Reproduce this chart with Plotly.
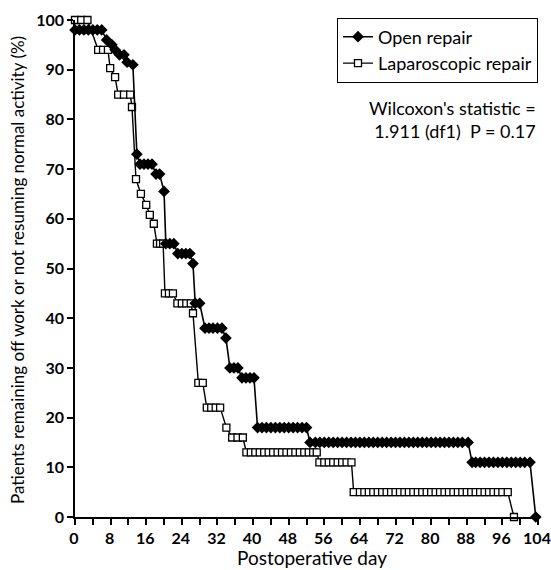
import plotly.graph_objects as go

# Open repair (day, % remaining off work)
open_days = [0, 1, 2, 3, 4, 5, 6, 7.1, 8.3, 9, 10, 11, 11.7, 13,
             13.9, 14.6, 15.5, 16.4, 17.3, 18.2, 19, 20,
             20.4, 21.3, 22.2, 23.1, 24, 24.9, 25.8, 26.5,
             27, 28, 29.2, 30.1, 31, 32, 33, 33.9,
             34.8, 35.7, 36.6, 37.5, 38.4, 39.3, 40.2,
             41, 42, 43, 44, 45, 46, 47, 48, 49, 50, 51, 52,
             52.8, 54, 55, 56, 57, 58, 59, 60, 61, 62, 63, 64, 65, 66, 67, 68, 69, 70,
             71, 72, 73, 74, 75, 76, 77, 78, 79, 80, 81, 82, 83, 84, 85, 86, 87, 88.3,
             89.2, 90, 91, 92, 93, 94, 95, 96, 97, 98, 99, 100, 101, 102.2,
             103.5]
open_vals = [98, 98, 98, 98, 98, 98, 98, 96, 95, 94, 93, 93, 91.5, 91,
             73, 71, 71, 71, 71, 69, 69, 65.5,
             55, 55, 55, 53, 53, 53, 53, 51,
             43, 43, 38, 38, 38, 38, 38, 36,
             30, 30, 30, 28, 28, 28, 28,
             18, 18, 18, 18, 18, 18, 18, 18, 18, 18, 18, 18,
             15, 15, 15, 15, 15, 15, 15, 15, 15, 15, 15, 15, 15, 15, 15, 15, 15, 15,
             15, 15, 15, 15, 15, 15, 15, 15, 15, 15, 15, 15, 15, 15, 15, 15, 15, 15,
             11, 11, 11, 11, 11, 11, 11, 11, 11, 11, 11, 11, 11, 11,
             0]

# Laparoscopic repair
lap_days = [0, 1.4, 2.8, 5.2, 6.3, 7.4, 7.9, 9, 9.7, 11, 12.4, 12.8,
            13.7, 14.8, 16, 16.8, 17.7, 18.4, 19.1, 19.8,
            20.2, 21.1, 22, 23, 24, 25, 26, 26.5,
            27.7, 28.7, 29.6, 30.6, 31.6, 32.6, 34, 35.3, 36.5, 37.7,
            38.5, 39.5, 40.5, 41.5, 42.5, 43.5, 44.5, 45.5, 46.5, 47.5, 48.5, 49.5,
            50.5, 51.5, 52.5, 53.5, 54.3,
            54.9, 56, 57, 58, 59, 60, 61, 62.1,
            62.6, 64, 65, 66, 67, 68, 69, 70, 71, 72, 73, 74, 75, 76, 77, 78, 79, 80,
            81, 82, 83, 84, 85, 86, 87, 88, 89, 90, 91, 92, 93, 94, 95, 96, 97.2,
            98.6]
lap_vals = [100, 100, 100, 94, 94, 94, 90.3, 88.5, 85, 85, 85, 82.5,
            68, 65, 62.8, 60.8, 59, 55, 55, 55,
            45, 45, 45, 43, 43, 43, 43, 41,
            27, 27, 22, 22, 22, 22, 18, 16, 16, 16,
            13, 13, 13, 13, 13, 13, 13, 13, 13, 13, 13, 13,
            13, 13, 13, 13, 13,
            11, 11, 11, 11, 11, 11, 11, 11,
            5, 5, 5, 5, 5, 5, 5, 5, 5, 5, 5, 5, 5, 5, 5, 5, 5, 5,
            5, 5, 5, 5, 5, 5, 5, 5, 5, 5, 5, 5, 5, 5, 5, 5, 5,
            0]

x_ticks = list(range(0, 105, 8))
y_ticks = list(range(0, 101, 10))

FONT = "Lato"

fig = go.Figure()
fig.add_trace(go.Scatter(
    x=lap_days, y=lap_vals, mode="lines+markers", name="Laparoscopic repair",
    line=dict(color="black", width=1.4),
    marker=dict(symbol="square", size=7, color="white",
                line=dict(color="black", width=1.3)),
    cliponaxis=False,
))
fig.add_trace(go.Scatter(
    x=open_days, y=open_vals, mode="lines+markers", name="Open repair",
    line=dict(color="black", width=1.6),
    marker=dict(symbol="diamond", size=9, color="black"),
    cliponaxis=False,
))

fig.update_layout(
    width=551, height=570,
    margin=dict(l=75, r=13, t=20, b=53, autoexpand=False),
    plot_bgcolor="white", paper_bgcolor="white",
    font=dict(family=FONT, color="black", size=15),
    showlegend=True,
    legend=dict(x=1, y=1.005, xanchor="right", yanchor="top",
                traceorder="reversed",
                bordercolor="black", borderwidth=1, bgcolor="white",
                font=dict(family=FONT, size=18, color="black"),
                itemwidth=30, tracegroupgap=0),
    annotations=[
        dict(x=1, y=0.85, xref="paper", yref="paper", xanchor="right", yanchor="top",
             align="right", showarrow=False,
             text="Wilcoxon's statistic =<br>1.911 (df1)  P = 0.17",
             font=dict(family=FONT, size=18, color="black")),
        dict(x=0.512, y=0, xref="paper", yref="paper", xanchor="center", yanchor="middle",
             yshift=-40, showarrow=False, text="Postoperative day",
             font=dict(family=FONT, size=19, color="black")),
        dict(x=0, y=0.497, xref="paper", yref="paper", xanchor="center", yanchor="middle",
             xshift=-57, textangle=-90, showarrow=False,
             text="Patients remaining off work or not resuming normal activity (%)",
             font=dict(family=FONT, size=17, color="black")),
    ],
)
fig.update_xaxes(
    range=[0, 104], tickvals=x_ticks, ticktext=[str(v) for v in x_ticks],
    showline=True, linecolor="black", linewidth=1.5,
    ticks="outside", ticklen=6, tickwidth=1.5, tickcolor="black",
    minor=dict(ticks="outside", dtick=4, tick0=0, ticklen=6, tickwidth=1.5, tickcolor="black"),
    showgrid=False, zeroline=False, automargin=False,
    ticklabeloverflow="allow", ticklabelshift=-1,
    tickfont=dict(family=FONT, size=16, color="black", weight="bold"),
)
fig.update_yaxes(
    range=[0, 100], tickvals=y_ticks, ticktext=[str(v) for v in y_ticks],
    showline=True, linecolor="black", linewidth=1.5,
    ticks="outside", ticklen=6, tickwidth=1.5, tickcolor="black",
    showgrid=False, zeroline=False, automargin=False,
    tickfont=dict(family=FONT, size=16, color="black", weight="bold"),
)

fig.write_html(
    "out.html",
    config={"displayModeBar": False},
    post_script="document.body.style.margin='0';document.body.style.overflow='hidden';",
)
